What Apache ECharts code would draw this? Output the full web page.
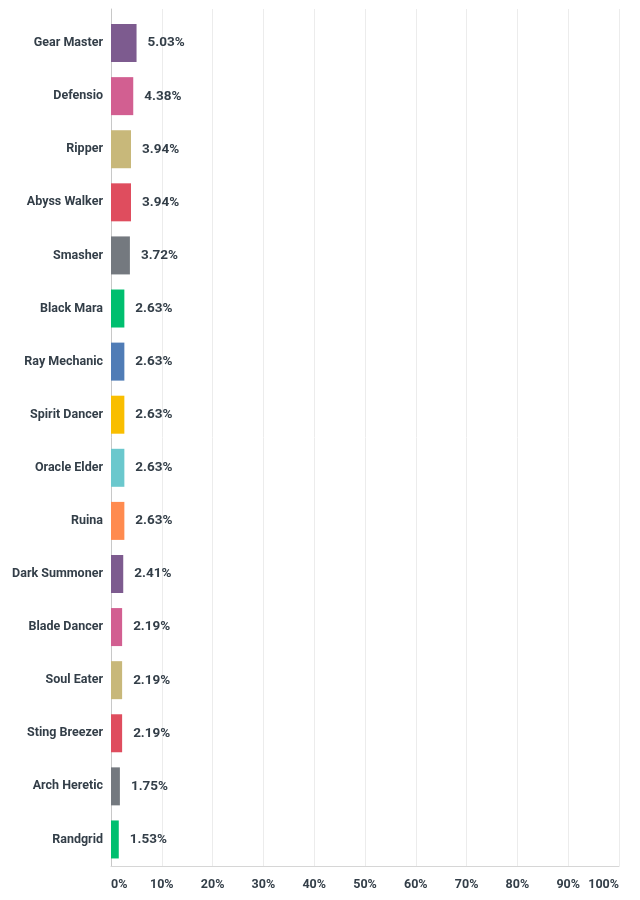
<!DOCTYPE html>
<html>
<head>
<meta charset="utf-8">
<script src="https://cdn.jsdelivr.net/npm/echarts@6/dist/echarts.min.js"></script>
<style>
html,body{margin:0;padding:0;background:#fff;}
#chart{width:640px;height:900px;}
</style>
</head>
<body>
<div id="chart"></div>
<script>
const categories = ["Gear Master","Defensio","Ripper","Abyss Walker","Smasher","Black Mara","Ray Mechanic","Spirit Dancer","Oracle Elder","Ruina","Dark Summoner","Blade Dancer","Soul Eater","Sting Breezer","Arch Heretic","Randgrid"];
const values = [5.03,4.38,3.94,3.94,3.72,2.63,2.63,2.63,2.63,2.63,2.41,2.19,2.19,2.19,1.75,1.53];
const palette = ["#7d5b8f","#d25f91","#c8b87a","#df4d5e","#74797f","#00bf6f","#507cb6","#f9be00","#6bc8cd","#ff8b4f"];
const xTicks = [0,10,20,30,40,50,60,70,80,90,100];

const chart = echarts.init(document.getElementById('chart'), null, {renderer:'canvas'});
const textColor = '#333e48';
const font = 'Roboto';
chart.setOption({
  animation:false,
  grid:[
    {left:111,right:21,top:16.5,bottom:34,containLabel:false},
    {left:111,right:21,top:9,bottom:34,containLabel:false}
  ],
  xAxis:[{
    type:'value', gridIndex:0, min:xTicks[0], max:xTicks[xTicks.length-1], interval:10,
    axisLine:{show:true,lineStyle:{color:'#d6d6d6',width:1}},
    axisTick:{show:false},
    splitLine:{show:false},
    axisLabel:{
      color:textColor,fontFamily:font,fontWeight:'bold',fontSize:12.5,margin:12,
      formatter:v=>v+'%',alignMinLabel:'left',alignMaxLabel:'right'
    }
  },{
    type:'value', gridIndex:1, min:xTicks[0], max:xTicks[xTicks.length-1], interval:10,
    axisLine:{show:false}, axisTick:{show:false}, axisLabel:{show:false},
    splitLine:{show:true,lineStyle:{color:'#ececec',width:1}}
  }],
  yAxis:[{
    type:'category', gridIndex:0, data:categories, inverse:true,
    axisLine:{show:false},
    axisTick:{show:false},
    axisLabel:{color:textColor,fontFamily:font,fontWeight:'bold',fontSize:12.5,margin:8}
  },{
    type:'value', gridIndex:1, min:0, max:1,
    axisLine:{show:true,lineStyle:{color:'#c8c8c8',width:1}},
    axisTick:{show:false}, axisLabel:{show:false}, splitLine:{show:false}
  }],
  series:[{
    type:'bar', xAxisIndex:0, yAxisIndex:0, z:3,
    data:values.map((v,i)=>({value:v,itemStyle:{color:palette[i%palette.length]}})),
    barWidth:38,
    label:{show:true,position:'right',distance:11,color:textColor,fontFamily:font,fontWeight:'bold',fontSize:13.5,formatter:p=>p.value.toFixed(2)+'%'}
  }]
});
</script>
</body>
</html>
